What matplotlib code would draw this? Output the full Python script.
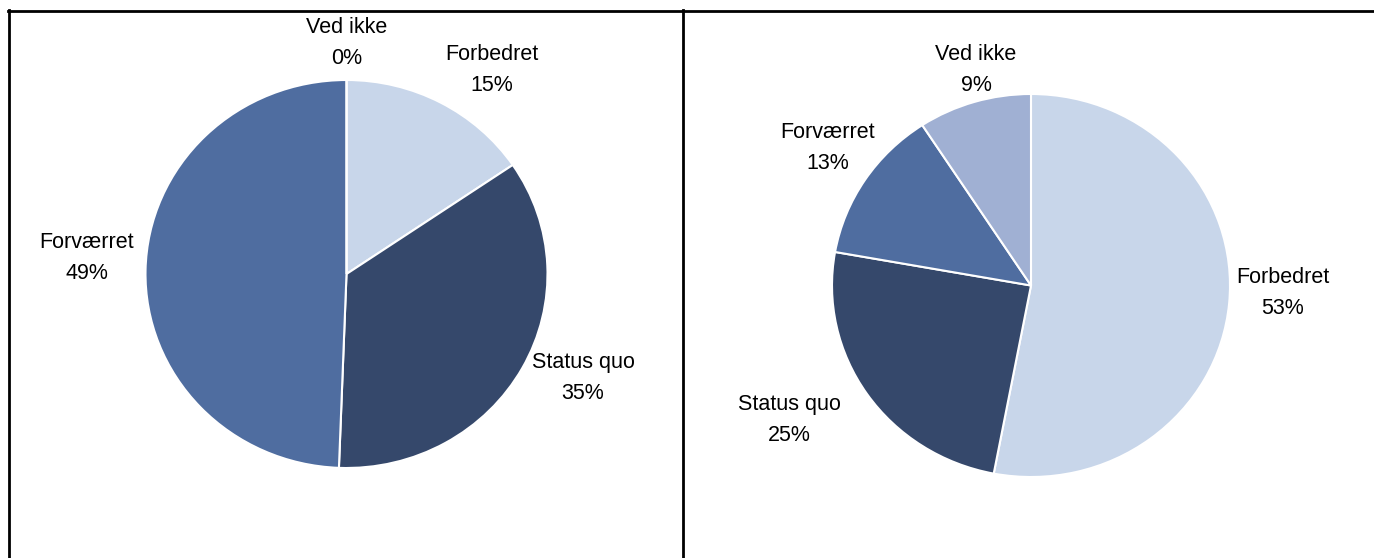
import matplotlib.pyplot as plt
from matplotlib.lines import Line2D

plt.rcParams['font.family'] = ['Liberation Sans', 'DejaVu Sans']

# data (share of answers, %)
labels = ['Forbedret', 'Status quo', 'Forværret', 'Ved ikke']
left_values = [15.5, 35.1, 49.4, 0.0]
right_values = [53.0, 24.8, 13.0, 9.2]
left_pct = ['15%', '35%', '49%', '0%']
right_pct = ['53%', '25%', '13%', '9%']

colors = ['#C8D6EA', '#35486B', '#4F6DA0', '#A0B0D3']

W, H = 1374, 558
fig = plt.figure(figsize=(W / 100, H / 100), dpi=100)


def add_pie(cx, cy, rx, ry, values, pct, label_pos):
    # axes in pie-radius units, x and y scaled separately
    xl, yl = 1.7, 1.45
    ax = fig.add_axes([(cx - xl * rx) / W, (H - cy - yl * ry) / H,
                       2 * xl * rx / W, 2 * yl * ry / H])
    ax.pie(values, colors=colors, startangle=90, counterclock=False,
           wedgeprops=dict(edgecolor='white', linewidth=1.5))
    ax.set_xlim(-xl, xl)
    ax.set_ylim(-yl, yl)
    ax.set_aspect('auto')
    ax.axis('off')
    for lab, p, (x, y) in zip(labels, pct, label_pos):
        ax.text(x, y - 0.015, lab + '\n' + p, ha='center', va='center',
                fontsize=15.5, linespacing=1.6, color='black')


add_pie(346.5, 274, 201, 194, left_values, left_pct,
        [(0.724, 1.067), (1.177, -0.52), (-1.291, 0.098), (0.0, 1.206)])
add_pie(1031, 285.5, 199, 191.5, right_values, right_pct,
        [(1.266, -0.023), (-1.216, -0.687), (-1.02, 0.734), (-0.276, 1.141)])

# frame lines
lw = 2.0
fig.add_artist(Line2D([8 / W, 1], [1 - 11 / H, 1 - 11 / H], color='black', lw=lw))
fig.add_artist(Line2D([9 / W, 9 / W], [0, 1 - 10 / H], color='black', lw=lw))
fig.add_artist(Line2D([683 / W, 683 / W], [0, 1 - 10 / H], color='black', lw=lw))

fig.savefig('out.png', dpi=100)
